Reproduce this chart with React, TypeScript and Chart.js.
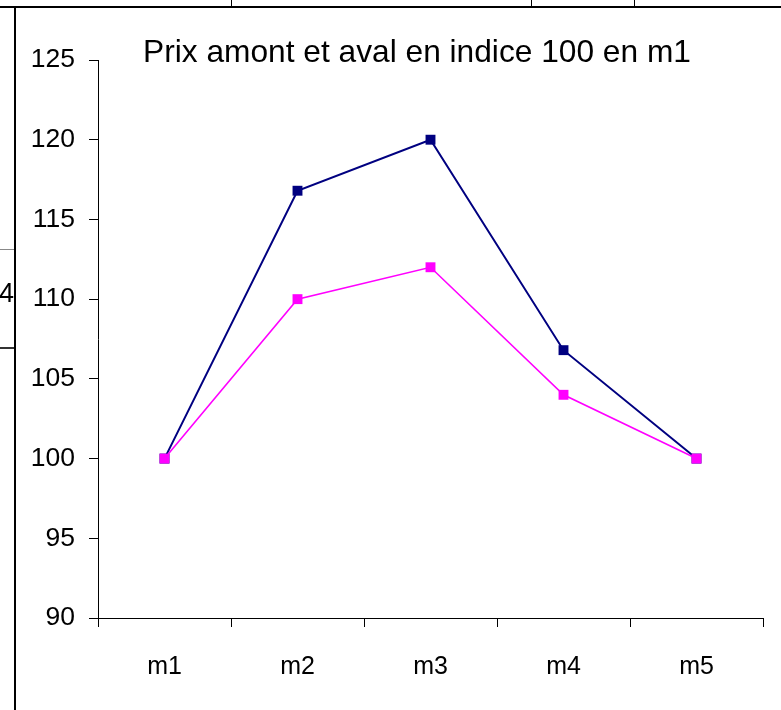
import React, { useEffect, useRef } from "react";
import { Chart, registerables } from "chart.js";

Chart.register(...registerables);

const categories = ["m1", "m2", "m3", "m4", "m5"];
const amont = [100, 116.8, 120, 106.8, 100];
const aval = [100, 110, 112, 104, 100];
const yTicks = [90, 95, 100, 105, 110, 115, 120, 125];
const titleText = "Prix amont et aval en indice 100 en m1";

const FONT = "'Liberation Sans', Arial, sans-serif";

const titlePlugin = {
  id: "customTitle",
  afterDraw(chart: any) {
    const ctx = chart.ctx;
    ctx.save();
    ctx.font = `31.7px ${FONT}`;
    ctx.fillStyle = "#000";
    ctx.textAlign = "center";
    ctx.textBaseline = "alphabetic";
    ctx.fillText(titleText, 417, 62);
    ctx.restore();
  },
};

export default function App() {
  const ref = useRef<HTMLCanvasElement | null>(null);

  useEffect(() => {
    if (!ref.current) return;
    const chart = new Chart(ref.current, {
      type: "line",
      data: {
        labels: categories,
        datasets: [
          {
            label: "amont",
            data: amont,
            order: 1,
            borderColor: "#000080",
            backgroundColor: "#000080",
            borderWidth: 2,
            pointStyle: "rect",
            pointRadius: 7,
            pointBorderWidth: 0,
            tension: 0,
          },
          {
            label: "aval",
            data: aval,
            order: 0,
            borderColor: "#FF00FF",
            backgroundColor: "#FF00FF",
            borderWidth: 1.6,
            pointStyle: "rect",
            pointRadius: 7,
            pointBorderWidth: 0,
            tension: 0,
          },
        ],
      },
      options: {
        responsive: false,
        animation: false,
        layout: { padding: { top: 60, right: 18, left: 0, bottom: 0 } },
        plugins: {
          legend: { display: false },
          title: { display: false },
          tooltip: { enabled: false },
        },
        scales: {
          x: {
            offset: true,
            grid: {
              offset: true,
              drawOnChartArea: false,
              drawTicks: true,
              tickLength: 9,
              color: "#000",
            },
            border: { color: "#000", width: 1 },
            ticks: {
              color: "#000",
              font: { family: FONT, size: 25 },
              padding: 25,
              maxRotation: 0,
            },
            afterFit(scale: any) {
              scale.height = 92;
            },
          },
          y: {
            min: 90,
            max: 125,
            afterBuildTicks(scale: any) {
              scale.ticks = yTicks.map((v) => ({ value: v }));
            },
            grid: {
              drawOnChartArea: false,
              drawTicks: true,
              tickLength: 9,
              color: "#000",
            },
            border: { color: "#000", width: 1 },
            ticks: {
              color: "#000",
              font: { family: FONT, size: 26.5 },
              padding: 14,
            },
            afterFit(scale: any) {
              scale.width = 98;
            },
          },
        },
      },
      plugins: [titlePlugin],
    });
    return () => chart.destroy();
  }, []);

  return (
    <div
      style={{
        position: "absolute",
        left: 0,
        top: 0,
        width: 781,
        height: 710,
        background: "#fff",
        overflow: "hidden",
        fontFamily: FONT,
      }}
    >
      <canvas ref={ref} width={781} height={710} style={{ position: "absolute", left: 0, top: 0 }} />
      <div style={{ position: "absolute", left: 0, top: 6, width: 781, height: 2, background: "#000" }} />
      <div style={{ position: "absolute", left: 231, top: 0, width: 1, height: 7, background: "#000" }} />
      <div style={{ position: "absolute", left: 531, top: 0, width: 1, height: 7, background: "#000" }} />
      <div style={{ position: "absolute", left: 634, top: 0, width: 1, height: 7, background: "#000" }} />
      <div style={{ position: "absolute", left: 14, top: 7, width: 2, height: 703, background: "#000" }} />
      <div style={{ position: "absolute", left: 0, top: 249, width: 14, height: 1, background: "#888" }} />
      <div style={{ position: "absolute", left: 0, top: 347, width: 14, height: 2, background: "#333" }} />
      <div
        style={{
          position: "absolute",
          right: 781 - 14,
          top: 276,
          fontSize: 27,
          lineHeight: "34px",
          color: "#000",
        }}
      >
        4
      </div>
    </div>
  );
}
